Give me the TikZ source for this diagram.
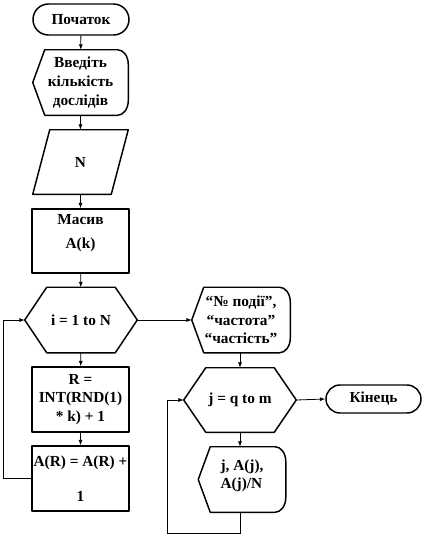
\documentclass[tikz,border=0pt]{standalone}
\usepackage{fontspec}
\setmainfont{Liberation Serif}
\usetikzlibrary{shapes.misc,arrows.meta}
\begin{document}
\begin{tikzpicture}[
    x=0.75pt, y=-0.75pt,
    every node/.style={font=\fontsize{11.5}{14}\selectfont\bfseries, align=center, inner sep=0pt},
    outline/.style={line width=1.1pt, line join=round},
    term/.style={rounded rectangle, draw, outline},
    procbox/.style={rectangle, draw, outline},
    hexbox/.style={append after command={\pgfextra{\draw[outline]
        (\tikzlastnode.west) -- ([xshift=16.5pt]\tikzlastnode.north west)
        -- ([xshift=-16.5pt]\tikzlastnode.north east) -- (\tikzlastnode.east)
        -- ([xshift=-16.5pt]\tikzlastnode.south east) -- ([xshift=16.5pt]\tikzlastnode.south west)
        -- cycle;}}},
    dispbox/.style={append after command={\pgfextra{\draw[outline]
        (\tikzlastnode.west) -- ([xshift=9pt]\tikzlastnode.north west)
        -- ([xshift=-8pt]\tikzlastnode.north east)
        arc[start angle=90, end angle=0, x radius=8pt, y radius=11pt]
        -- ([yshift=11pt]\tikzlastnode.south east)
        arc[start angle=0, end angle=-90, x radius=8pt, y radius=11pt]
        -- ([xshift=9pt]\tikzlastnode.south west) -- cycle;}}},
    databox/.style={append after command={\pgfextra{\draw[outline]
        ([xshift=12.75pt]\tikzlastnode.north west) -- (\tikzlastnode.north east)
        -- ([xshift=-12.75pt]\tikzlastnode.south east) -- (\tikzlastnode.south west)
        -- cycle;}}},
    arrow/.style={-{Latex[length=4pt,width=3pt]}, line width=0.6pt}
]
\useasboundingbox (0,0) rectangle (426,536);

% left column
\node[term, minimum width=72pt, minimum height=23.25pt] (start) at (81,19.5) {Початок};
\node[dispbox, minimum width=71.25pt, minimum height=48.75pt] (ask) at (80.5,82.5) {Введіть\\кількість\\дослідів};
\node[databox, minimum width=71.25pt, minimum height=48pt] (nval) at (80.5,162) {N};
\node[procbox, minimum width=72.75pt, minimum height=48pt, text depth=14pt] (arr) at (80.5,241) {Масив\\[4pt]A(k)};
\node[hexbox, minimum width=84pt, minimum height=48.75pt] (loopi) at (81,320) {i = 1 to N};
\node[procbox, minimum width=72.75pt, minimum height=48.75pt] (rcalc) at (80.5,399.5) {R =\\INT(RND(1)\\* k) + 1};
\node[procbox, minimum width=72.75pt, minimum height=48.75pt] (acalc) at (80.5,478.5) {A(R) = A(R) +\\[12pt]1};

% right column
\node[dispbox, minimum width=73.5pt, minimum height=48.75pt] (head) at (241,320) {“№ події”,\\“частота”\\“частість”};
\node[hexbox, minimum width=84pt, minimum height=48pt] (loopj) at (240,400) {j = q to m};
\node[term, minimum width=71.25pt, minimum height=21pt] (finish) at (373.5,399) {Кінець};
\node[dispbox, minimum width=65.25pt, minimum height=48.75pt, align=left, text depth=8pt] (res) at (242,479.5) {j, A(j),\\A(j)/N};

\coordinate (backi) at (3,478.5);
\coordinate (backj) at (167,533);

\draw[arrow] (start) -- (ask);
\draw[arrow] (ask) -- (nval);
\draw[arrow] (nval) -- (arr);
\draw[arrow] (arr) -- (loopi);
\draw[arrow] (loopi) -- (rcalc);
\draw[arrow] (rcalc) -- (acalc);
\draw[arrow] (acalc.west) -- (backi) |- (loopi.west);
\draw[arrow] (loopi.east) -- (head.west);
\draw[arrow] (head.south -| loopj.north) -- (loopj.north);
\draw[arrow] (loopj.east) -- (finish.west);
\draw[arrow] (loopj.south) -- (loopj.south |- res.north);
\draw[arrow] (loopj.south |- res.south) |- (backj) |- (loopj.west);
\end{tikzpicture}
\end{document}
